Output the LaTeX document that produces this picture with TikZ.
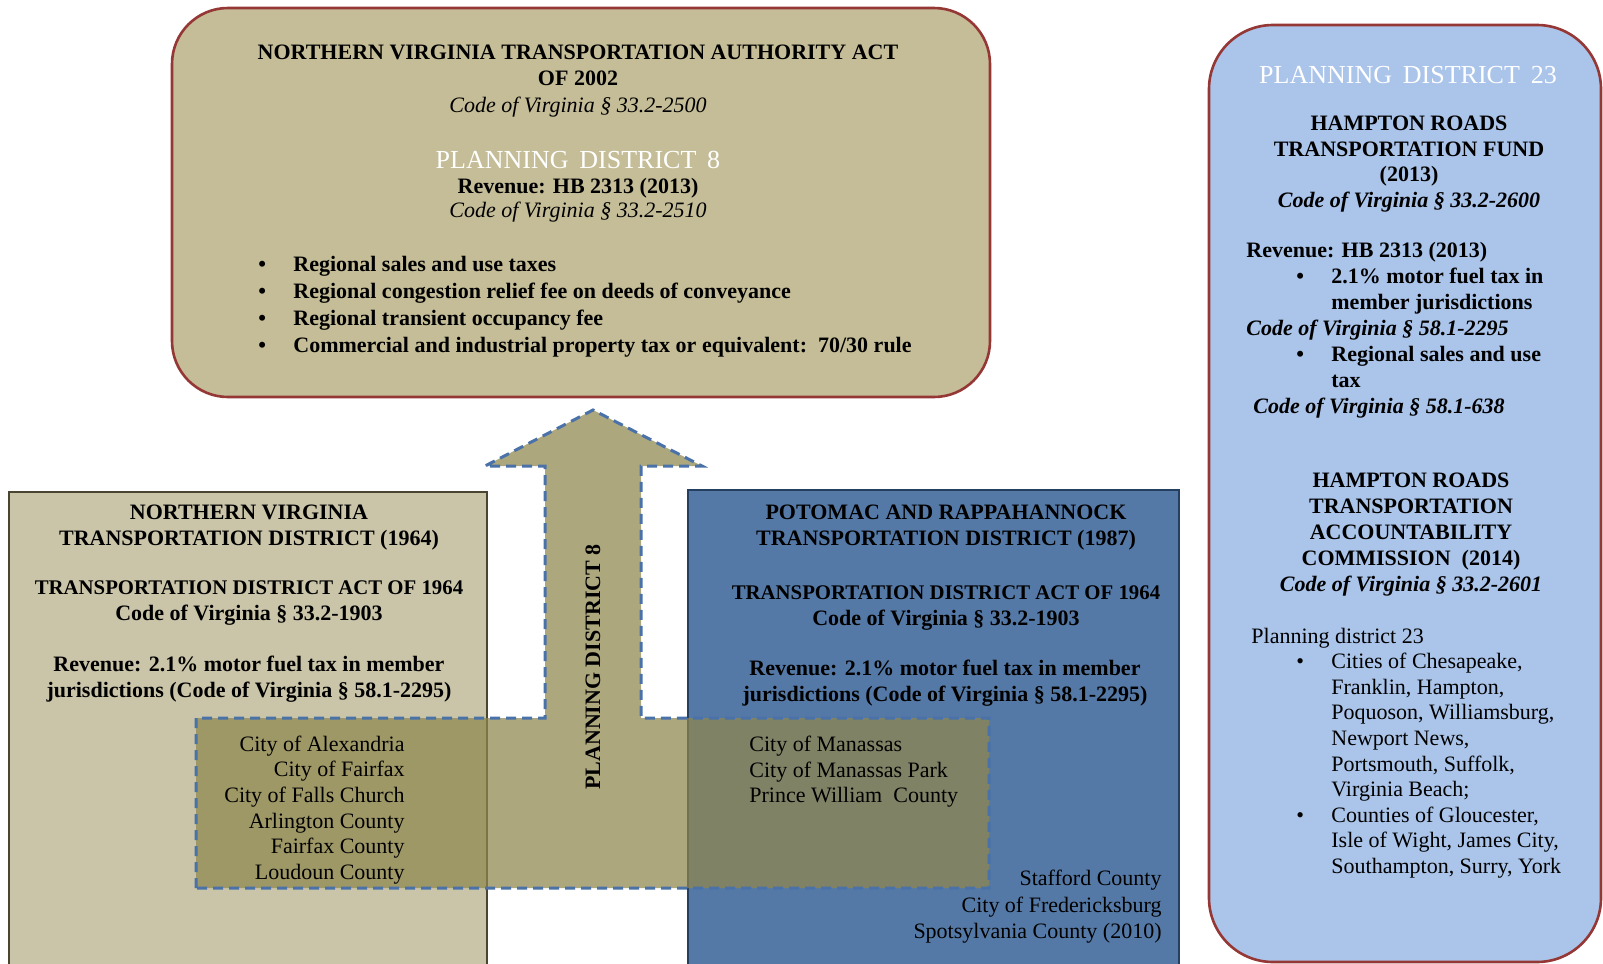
\documentclass[tikz,border=0pt]{standalone}
\usepackage{fontspec}
\setmainfont{Liberation Serif}
\usepackage{tikz}
\definecolor{actred}{HTML}{953735}
\definecolor{tanfill}{HTML}{C4BD97}
\definecolor{tanlight}{HTML}{CAC5A9}
\definecolor{tandark}{HTML}{8F864E}
\definecolor{tanedge}{HTML}{4A4530}
\definecolor{prtcblue}{HTML}{5579A6}
\definecolor{prtcedge}{HTML}{243F60}
\definecolor{hrblue}{HTML}{AAC4EA}
\definecolor{dashblue}{HTML}{4A72A8}
\newcommand{\statute}[1]{\textit{\mdseries #1}}
\newcommand{\bul}{\makebox[17.5pt][l]{\textbullet}}

\begin{document}
\begin{tikzpicture}[
    x=0.5pt, y=-0.5pt,
    actbox/.style={rectangle, draw=actred, line width=1.3pt, rounded corners=28pt},
    tdbox/.style={rectangle, line width=1.2pt},
    title/.style={inner sep=0pt, yshift=-1.5pt, align=center, font=\bfseries\fontsize{11}{13}\selectfont},
    pdname/.style={inner sep=0pt, yshift=-1.5pt, text=white, font=\fontsize{13}{15}\selectfont},
    towns/.style={inner sep=0pt, yshift=-1.5pt, font=\fontsize{11}{12.8}\selectfont},
    pdarrow/.style={draw=dashblue, line width=1.5pt, dash pattern=on 5pt off 3pt,
                    fill=tandark, fill opacity=0.73}
]
\useasboundingbox (0,0) rectangle (1603,964);
\clip (0,0) rectangle (1603,964);

% Boxes
\node[actbox, fill=tanfill, minimum width=409pt, minimum height=194.5pt] (nvta) at (581,202.5) {};
\node[actbox, fill=hrblue, rounded corners=32pt, minimum width=196pt, minimum height=468.5pt] (pdtwentythree) at (1405,493.5) {};
\node[tdbox, draw=tanedge, fill=tanlight, minimum width=239pt, minimum height=244pt] (nvtd) at (248,736) {};
\node[tdbox, draw=prtcedge, fill=prtcblue, minimum width=245.5pt, minimum height=245pt] (prtc) at (933.5,735) {};

% Planning district 8 arrow
\draw[pdarrow] (196,888) -- (196,718) -- (545,718) -- (545,466) -- (485,466) -- (593,410)
    -- (702,466) -- (641,466) -- (641,718) -- (989,718) -- (989,888) -- cycle;
\node[title, rotate=90, yshift=0pt] (pdeightarrow) at (593,664) {PLANNING DISTRICT 8};

% Northern Virginia Transportation Authority
\node[title, font=\bfseries\fontsize{11}{13.25}\selectfont] (nvtaact) at (578,78)
    {NORTHERN VIRGINIA TRANSPORTATION AUTHORITY ACT\\ OF 2002\\ \statute{Code of Virginia § 33.2-2500}};
\node[pdname] (pdeight) at (578,157) {PLANNING\, DISTRICT\, 8};
\node[title, font=\bfseries\fontsize{11}{12}\selectfont] (nvtarev) at (578,197)
    {Revenue: HB 2313 (2013)\\ \statute{Code of Virginia § 33.2-2510}};
\node[title, anchor=west, align=left, font=\bfseries\fontsize{11}{13.5}\selectfont] (nvtataxes) at (258,304)
    {\bul Regional sales and use taxes\\
     \bul Regional congestion relief fee on deeds of conveyance\\
     \bul Regional transient occupancy fee\\
     \bul Commercial and industrial property tax or equivalent:\ \ 70/30 rule};

% Hampton Roads
\node[pdname] (pdtwentythreename) at (1408,72) {PLANNING\, DISTRICT\, 23};
\node[title, font=\bfseries\fontsize{11}{12.7}\selectfont] (hrtf) at (1409,161)
    {HAMPTON ROADS\\ TRANSPORTATION FUND\\ (2013)\\ \textit{Code of Virginia § 33.2-2600}};
\node[title, anchor=west, align=left] (hrtfrev) at (1246,327)
    {Revenue: HB 2313 (2013)\\
     \hspace*{25pt}\bul 2.1\% motor fuel tax in\\
     \hspace*{42.5pt}member jurisdictions\\
     \textit{Code of Virginia § 58.1-2295}\\
     \hspace*{25pt}\bul Regional sales and use\\
     \hspace*{42.5pt}tax\\
     \hspace*{3.5pt}\textit{Code of Virginia § 58.1-638}};
\node[title] (hrtac) at (1411,532)
    {HAMPTON ROADS\\ TRANSPORTATION\\ ACCOUNTABILITY\\ COMMISSION\ \ (2014)\\ \textit{Code of Virginia § 33.2-2601}};
\node[towns, anchor=west, align=left] (hrtowns) at (1251,750)
    {Planning district 23\\
     \hspace*{22.5pt}\bul Cities of Chesapeake,\\
     \hspace*{40pt}Franklin, Hampton,\\
     \hspace*{40pt}Poquoson,\ Williamsburg,\\
     \hspace*{40pt}Newport News,\\
     \hspace*{40pt}Portsmouth, Suffolk,\\
     \hspace*{40pt}Virginia Beach;\\
     \hspace*{22.5pt}\bul Counties of Gloucester,\\
     \hspace*{40pt}Isle of Wight, James City,\\
     \hspace*{40pt}Southampton, Surry, York};

% Northern Virginia Transportation District
\node[title] (nvtdname) at (249,524.5) {NORTHERN VIRGINIA\\ TRANSPORTATION DISTRICT (1964)};
\node[title] (nvtdact) at (249,600.5) {{\fontsize{10.4}{13}\selectfont TRANSPORTATION DISTRICT ACT OF 1964}\\ Code of Virginia § 33.2-1903};
\node[title] (nvtdrev) at (249,676) {Revenue: 2.1\% motor fuel tax in member\\ jurisdictions (Code of Virginia § 58.1-2295)};
\node[towns, anchor=east, align=right] (nvtdtowns) at (405,807)
    {City of Alexandria\\ City of Fairfax\\ City of Falls Church\\ Arlington County\\ Fairfax County\\ Loudoun County};

% Potomac and Rappahannock Transportation District
\node[title] (prtcname) at (946,524.5) {POTOMAC AND RAPPAHANNOCK\\ TRANSPORTATION DISTRICT (1987)};
\node[title] (prtcact) at (946,605.5) {{\fontsize{10.4}{13}\selectfont TRANSPORTATION DISTRICT ACT OF 1964}\\ Code of Virginia § 33.2-1903};
\node[title] (prtcrev) at (945,680.5) {Revenue: 2.1\% motor fuel tax in member\\ jurisdictions (Code of Virginia § 58.1-2295)};
\node[towns, anchor=west, align=left] (prtcpd) at (749,769)
    {City of Manassas\\ City of Manassas Park\\ Prince William\ \ County};
\node[towns, anchor=east, align=right, font=\fontsize{11}{13.25}\selectfont] (prtcother) at (1162,904)
    {Stafford County\\ City of Fredericksburg\\ Spotsylvania County (2010)};

\end{tikzpicture}
\end{document}
